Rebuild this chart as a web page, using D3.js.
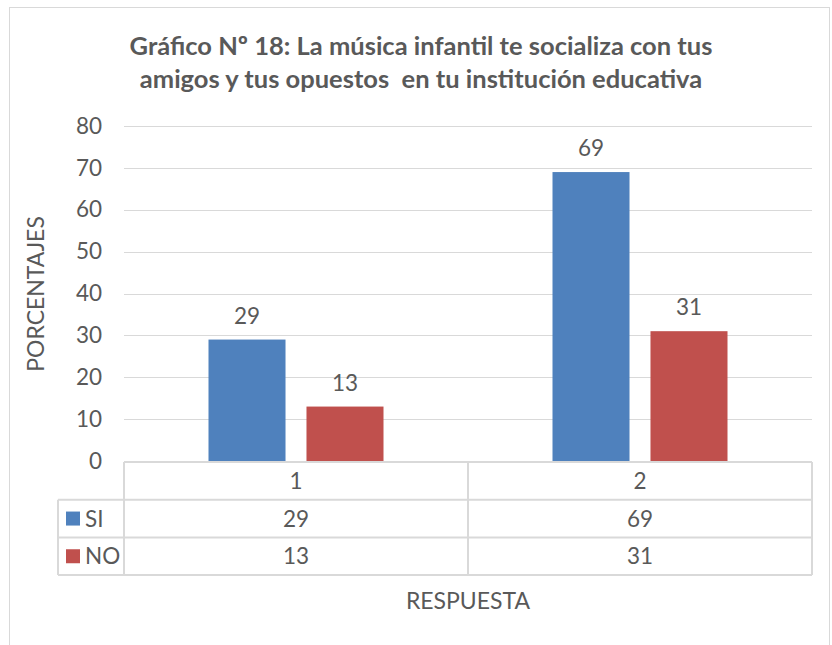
<!DOCTYPE html>
<html>
<head>
<meta charset="utf-8">
<script src="https://cdn.jsdelivr.net/npm/d3@7"></script>
<style>
  body { margin: 0; background: #fff; }
  text { font-family: Lato, "Open Sans", sans-serif; fill: #595959; }
</style>
</head>
<body>
<div id="chart"></div>
<script>
// chart data
var categories = ["1", "2"];
var seriesNames = ["SI", "NO"];
var siValues = [29, 69];
var noValues = [13, 31];
var yTicks = [0, 10, 20, 30, 40, 50, 60, 70, 80];
var titleLines = ["Gráfico Nº 18: La música infantil te socializa con tus",
                  "amigos y tus opuestos  en tu institución educativa"];

var colors = {SI: "#4f81bd", NO: "#c0504d"};
var W = 832, H = 645;
var margin = {top: 126, left: 124, right: 20, bottom: 184};
var plotW = 812 - margin.left, plotH = 461 - margin.top;
var fs = "22.5px";

var svg = d3.select("#chart").append("svg")
    .attr("width", W).attr("height", H);

// outer chart border
svg.append("rect")
    .attr("x", 9.5).attr("y", 7.5)
    .attr("width", 820).attr("height", 660)
    .attr("fill", "none").attr("stroke", "#d9d9d9");

// title
svg.append("g").selectAll("text")
    .data(titleLines)
  .enter().append("text")
    .attr("x", 421)
    .attr("y", function(d, i) { return 55 + i * 33; })
    .attr("text-anchor", "middle")
    .style("font-size", "25.5px")
    .style("font-weight", "bold")
    .style("white-space", "pre")
    .text(function(d) { return d; });

var g = svg.append("g")
    .attr("transform", "translate(" + margin.left + "," + margin.top + ")");

var x0 = d3.scaleBand().domain(categories).range([0, plotW]);
var x1 = d3.scaleBand().domain(seriesNames).range([84.5, 344 - 84.5]).paddingInner(0.214);
var y = d3.scaleLinear().domain([0, 80]).range([plotH, 0]);

// gridlines
g.append("g").selectAll("line")
    .data(yTicks)
  .enter().append("line")
    .attr("x1", 0).attr("x2", plotW)
    .attr("y1", function(d) { return Math.round(y(d)) + 0.5; })
    .attr("y2", function(d) { return Math.round(y(d)) + 0.5; })
    .attr("stroke", "#d9d9d9");

// y axis labels
var yAxis = g.append("g")
    .call(d3.axisLeft(y).tickValues(yTicks).tickSize(0).tickPadding(22));
yAxis.select(".domain").remove();
yAxis.selectAll("text")
    .style("font-size", fs)
    .style("font-family", "Lato, sans-serif")
    .attr("fill", "#595959");

// bars
var rows = categories.map(function(c, i) {
  return {cat: c, vals: [{s: "SI", v: siValues[i]}, {s: "NO", v: noValues[i]}]};
});

var groups = g.selectAll(".cat")
    .data(rows)
  .enter().append("g")
    .attr("class", "cat")
    .attr("transform", function(d) { return "translate(" + x0(d.cat) + ",0)"; });

groups.selectAll("rect")
    .data(function(d) { return d.vals; })
  .enter().append("rect")
    .attr("x", function(d) { return x1(d.s); })
    .attr("width", x1.bandwidth())
    .attr("y", function(d) { return y(d.v); })
    .attr("height", function(d) { return plotH - y(d.v); })
    .attr("fill", function(d) { return colors[d.s]; });

groups.selectAll(".lbl")
    .data(function(d) { return d.vals; })
  .enter().append("text")
    .attr("class", "lbl")
    .attr("x", function(d) { return x1(d.s) + x1.bandwidth() / 2; })
    .attr("y", function(d) { return y(d.v) - 16; })
    .attr("text-anchor", "middle")
    .style("font-size", fs)
    .text(function(d) { return d.v; });

// data table
var rowH = 37.7;
var tbl = svg.append("g").attr("transform", "translate(0," + 461 + ")");
var tableLeft = 58, colLeft = margin.left, right = 812;
var lineStyle = function(sel) { return sel.attr("stroke", "#d9d9d9").attr("stroke-width", 2).attr("fill", "none"); };

// horizontal lines
tbl.append("line").attr("x1", colLeft).attr("x2", right).attr("y1", 1).attr("y2", 1).call(lineStyle);
[1, 2, 3].forEach(function(i) {
  tbl.append("line").attr("x1", tableLeft).attr("x2", right)
      .attr("y1", 1 + i * rowH).attr("y2", 1 + i * rowH).call(lineStyle);
});
// vertical lines
tbl.append("line").attr("x1", tableLeft).attr("x2", tableLeft).attr("y1", 1 + rowH).attr("y2", 1 + 3 * rowH).call(lineStyle);
[colLeft, colLeft + x0.bandwidth(), right].forEach(function(xx) {
  tbl.append("line").attr("x1", xx).attr("x2", xx).attr("y1", 1).attr("y2", 1 + 3 * rowH).call(lineStyle);
});

// header row
tbl.selectAll(".hdr")
    .data(categories)
  .enter().append("text")
    .attr("x", function(d) { return colLeft + x0(d) + x0.bandwidth() / 2; })
    .attr("y", 1 + rowH / 2 + 8)
    .attr("text-anchor", "middle")
    .style("font-size", fs)
    .text(function(d) { return d; });

var tableRows = [{s: "SI", vals: siValues}, {s: "NO", vals: noValues}];
tableRows.forEach(function(r, ri) {
  var cy = 1 + (ri + 1) * rowH + rowH / 2;
  tbl.append("rect")
      .attr("x", 66).attr("y", cy - 7).attr("width", 14).attr("height", 14)
      .attr("fill", colors[r.s]);
  tbl.append("text")
      .attr("x", 85).attr("y", cy + 8)
      .style("font-size", fs)
      .text(r.s);
  tbl.selectAll(".v" + ri)
      .data(r.vals)
    .enter().append("text")
      .attr("x", function(d, i) { return colLeft + x0(categories[i]) + x0.bandwidth() / 2; })
      .attr("y", cy + 8)
      .attr("text-anchor", "middle")
      .style("font-size", fs)
      .text(function(d) { return d; });
});

// axis titles
svg.append("text")
    .attr("x", 468).attr("y", 609)
    .attr("text-anchor", "middle")
    .style("font-size", "23px")
    .text("RESPUESTA");

svg.append("text")
    .attr("transform", "translate(44,294) rotate(-90)")
    .attr("text-anchor", "middle")
    .style("font-size", "23px")
    .text("PORCENTAJES");
</script>
</body>
</html>
